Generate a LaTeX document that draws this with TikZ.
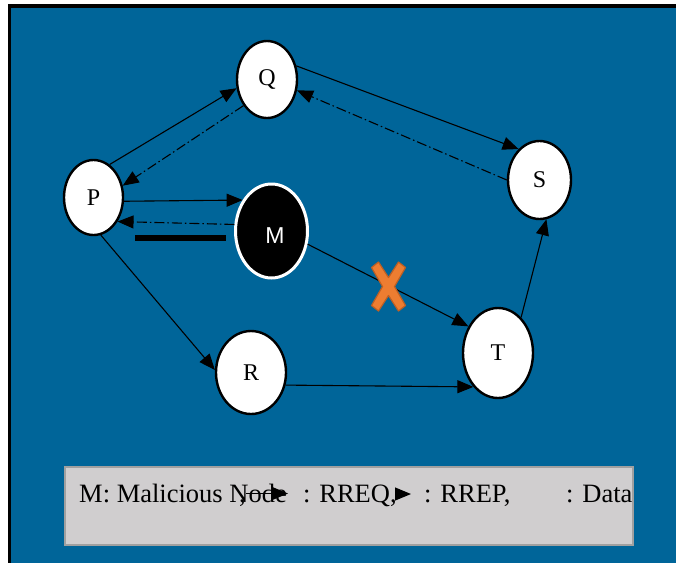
\documentclass[tikz,border=0pt]{standalone}
\usepackage{fontspec}
\setmainfont{Liberation Serif}
\newfontfamily\labelsans{Liberation Sans}
\usetikzlibrary{shapes.geometric,arrows.meta}
\definecolor{netblue}{RGB}{0,101,153}
\definecolor{legendgray}{RGB}{208,206,207}
\definecolor{legendedge}{RGB}{160,160,160}
\definecolor{xorange}{RGB}{237,125,49}
\definecolor{xedge}{RGB}{190,95,35}
\tikzset{
  host/.style={ellipse, draw=black, fill=white, line width=2.4pt, inner sep=0pt,
    font=\fontsize{24}{26}\selectfont},
  rogue/.style={ellipse, draw=white, fill=black, line width=3pt, inner sep=0pt,
    text=white, font=\labelsans\fontsize{22}{24}\selectfont},
  tip/.style={-{Triangle[length=16pt,width=13pt]}},
  rreq/.style={tip, line width=1.1pt},
  rrep/.style={tip, line width=1.1pt, dash pattern=on 10pt off 3pt on 1.5pt off 3pt},
  databar/.style={line width=5.5pt},
  legendtext/.style={anchor=base west, inner sep=0pt, font=\fontsize{26.5}{28}\selectfont}
}
\begin{document}
\begin{tikzpicture}[x=1pt,y=-1pt]
  \useasboundingbox (0,0) rectangle (676,563);
  % backdrop with frame on the left and top edges
  \fill[black] (7.5,4) rectangle (676,563);
  \fill[netblue] (11,7.5) rectangle (676,563);

  % network nodes
  \node[host, minimum width=59pt, minimum height=75pt] (P) at (93.5,197.5) {P};
  \node[host, minimum width=60pt, minimum height=77pt] (Q) at (267,79.5) {Q};
  \node[host, minimum width=63pt, minimum height=78pt] (S) at (539.5,180) {S};
  \node[host, minimum width=70pt, minimum height=90pt] (T) at (498,353) {T};
  \node[host, minimum width=70pt, minimum height=83pt] (R) at (251,372.5) {R};
  \node[rogue, minimum width=72pt, minimum height=94pt] (M) at (271.5,231) {};
  \node[text=white, font=\labelsans\fontsize{23}{25}\selectfont, inner sep=0pt] (Mlabel) at (275,236) {M};

  % route requests
  \draw[rreq] (P.64) -- (Q.196);
  \draw[rreq] (Q.25) -- (S.124);
  \draw[rreq] (P.-7) -- (M.133);
  \draw[rreq] (M.-20) -- (T.138);
  \draw[rreq] (P.-79) -- (R.176);
  \draw[rreq] (R.-20) -- (T.234);
  \draw[rreq] (T.57) -- (S.-80);

  % route replies
  \draw[rrep] (Q.228) -- (P.22);
  \draw[rrep] (S.180) -- (Q.-20);
  \draw[rrep] (M.170) -- (P.-45);

  % data flow bar
  \coordinate (barA) at (135,238);
  \coordinate (barB) at (226,238);
  \draw[databar] (barA) -- (barB);

  % broken link marker
  \begin{scope}[shift={(388.5,286.5)}]
    \filldraw[fill=xorange, draw=xedge, line width=1.2pt, line join=round]
      (-17,-19) -- (-10,-24.5) -- (0,-9) -- (10,-24.5) -- (17,-19) -- (6,0)
      -- (17,19) -- (10,24.5) -- (0,9) -- (-10,24.5) -- (-17,19) -- (-6,0) -- cycle;
  \end{scope}

  % legend
  \node[draw=legendedge, fill=legendgray, line width=1.5pt, minimum width=568pt,
        minimum height=78pt, inner sep=0pt] (legend) at (349,506) {};
  \node[legendtext] (lgM) at (79,502) {M: Malicious Node};
  \node[legendtext] (lgComma) at (239,502) {,};
  \coordinate (lgReqA) at (246,493.5);
  \coordinate (lgReqB) at (288,493.5);
  \draw[rreq] (lgReqA) -- (lgReqB);
  \node[legendtext] (lgReq) at (303,502) {: RREQ,};
  \coordinate (lgRepA) at (396,494);
  \coordinate (lgRepB) at (411,494);
  \draw[rrep] (lgRepA) -- (lgRepB);
  \node[legendtext] (lgRep) at (424,502) {: RREP,};
  \node[legendtext] (lgData) at (566,502) {: Data};
\end{tikzpicture}
\end{document}
